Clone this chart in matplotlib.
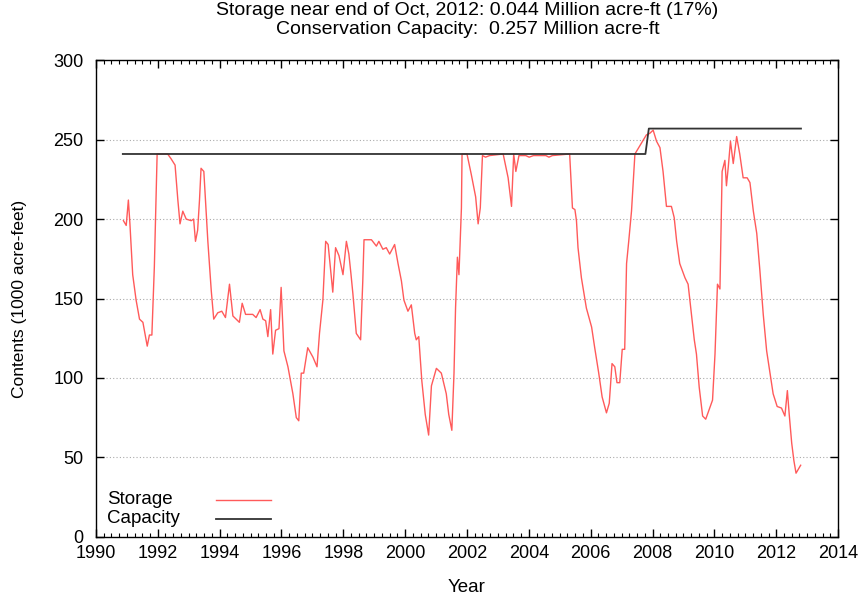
import matplotlib
matplotlib.use("Agg")
import matplotlib.pyplot as plt
from matplotlib.ticker import MultipleLocator

plt.rcParams['font.family'] = ['Liberation Sans', 'DejaVu Sans']

# Storage (1000 acre-ft)
storage_year = [
    1990.89, 1990.98, 1991.05, 1991.10, 1991.19, 1991.30, 1991.41, 1991.52,
    1991.66, 1991.73, 1991.81, 1991.89, 1991.98, 1992.32, 1992.43, 1992.56,
    1992.65, 1992.72, 1992.81, 1992.92, 1993.08, 1993.16, 1993.22, 1993.29,
    1993.35, 1993.40, 1993.49, 1993.62, 1993.73, 1993.81, 1993.94, 1994.07,
    1994.19, 1994.32, 1994.43, 1994.64, 1994.73, 1994.84, 1995.07, 1995.18,
    1995.31, 1995.40, 1995.49, 1995.56, 1995.65, 1995.72, 1995.81, 1995.92,
    1995.99, 1996.08, 1996.21, 1996.37, 1996.48, 1996.56, 1996.64, 1996.72,
    1996.85, 1997.02, 1997.15, 1997.23, 1997.34, 1997.43, 1997.51, 1997.66,
    1997.75, 1997.86, 1997.99, 1998.10, 1998.18, 1998.25, 1998.31, 1998.42,
    1998.56, 1998.63, 1998.67, 1998.91, 1999.07, 1999.15, 1999.28, 1999.39,
    1999.50, 1999.66, 1999.77, 1999.88, 1999.96, 2000.09, 2000.20, 2000.31,
    2000.36, 2000.44, 2000.54, 2000.65, 2000.76, 2000.85, 2001.01, 2001.17,
    2001.33, 2001.41, 2001.51, 2001.58, 2001.63, 2001.69, 2001.74, 2001.82,
    2001.84, 2002.00, 2002.14, 2002.28, 2002.36, 2002.43, 2002.50, 2002.60,
    2002.73, 2003.17, 2003.33, 2003.44, 2003.51, 2003.58, 2003.68, 2003.90,
    2004.01, 2004.15, 2004.55, 2004.65, 2004.76, 2005.32, 2005.41, 2005.49,
    2005.54, 2005.59, 2005.70, 2005.86, 2006.03, 2006.13, 2006.26, 2006.37,
    2006.51, 2006.60, 2006.69, 2006.78, 2006.85, 2006.94, 2007.02, 2007.10,
    2007.16, 2007.23, 2007.32, 2007.43, 2007.80, 2007.91, 2008.02, 2008.13,
    2008.24, 2008.34, 2008.45, 2008.61, 2008.70, 2008.78, 2008.88, 2009.05,
    2009.15, 2009.26, 2009.35, 2009.42, 2009.51, 2009.62, 2009.72, 2009.83,
    2009.94, 2010.02, 2010.10, 2010.18, 2010.25, 2010.34, 2010.39, 2010.45,
    2010.52, 2010.61, 2010.72, 2010.82, 2010.93, 2011.06, 2011.15, 2011.26,
    2011.37, 2011.47, 2011.58, 2011.69, 2011.80, 2011.90, 2012.03, 2012.17,
    2012.28, 2012.36, 2012.42, 2012.50, 2012.57, 2012.64, 2012.79,
]
storage_value = [
    199, 196, 212, 197, 165, 149, 137, 135,
    120, 127, 127, 170, 241, 241, 238, 234,
    212, 197, 205, 200, 199, 200, 186, 193,
    212, 232, 230, 186, 155, 137, 141, 142,
    138, 159, 139, 135, 147, 140, 140, 138,
    143, 137, 136, 126, 143, 115, 130, 131,
    157, 117, 107, 90, 75, 73, 103, 103,
    119, 113, 107, 128, 149, 186, 184, 154,
    182, 177, 165, 186, 178, 165, 153, 128,
    124, 161, 187, 187, 183, 186, 181, 182,
    178, 184, 172, 161, 149, 142, 146, 128,
    124, 126, 98, 77, 64, 95, 106, 103,
    90, 77, 67, 103, 144, 176, 165, 207,
    241, 241, 228, 214, 197, 207, 240, 239,
    240, 241, 226, 208, 241, 230, 240, 240,
    239, 240, 240, 239, 240, 241, 207, 206,
    199, 182, 163, 144, 132, 119, 103, 88,
    78, 84, 109, 107, 97, 97, 118, 118,
    172, 186, 205, 241, 253, 254, 256, 249,
    245, 230, 208, 208, 201, 186, 172, 163,
    159, 140, 124, 115, 94, 76, 74, 80,
    86, 115, 159, 156, 230, 237, 221, 233,
    249, 235, 252, 241, 226, 226, 223, 205,
    191, 168, 140, 117, 103, 90, 82, 81,
    76, 92, 77, 59, 48, 40, 45,
]

# Conservation capacity (1000 acre-ft)
capacity_year = [1990.87, 2007.77, 2007.88, 2012.80]
capacity_value = [241, 241, 257, 257]

x_ticks = list(range(1990, 2015, 2))
y_ticks = list(range(0, 301, 50))

storage_style = dict(color='#ff5a5a', lw=1.0)
capacity_style = dict(color='#333333', lw=1.3)

fig = plt.figure(figsize=(8.64, 5.97), dpi=100)
ax = fig.add_axes([0.111, 0.101, 0.859, 0.798])

ax.plot(storage_year, storage_value, **storage_style)
ax.plot(capacity_year, capacity_value, **capacity_style)

ax.set_xlim(1990, 2014)
ax.set_ylim(0, 300)
ax.set_xticks(x_ticks)
ax.set_yticks(y_ticks)
ax.xaxis.set_minor_locator(MultipleLocator(0.25))
ax.tick_params(which='both', direction='in', top=True, right=True,
               labelsize=13, color='black')
ax.tick_params(which='major', length=6, width=1)
ax.tick_params(which='minor', length=3, width=0.8)
ax.tick_params(axis='x', pad=6)
ax.tick_params(axis='y', pad=9)
ax.yaxis.grid(True, linestyle=(0, (1, 2)), color='#aaaaaa', lw=0.8)
for s in ax.spines.values():
    s.set_linewidth(1.0)
    s.set_color('black')

ax.set_xlabel('Year', fontsize=13.5, labelpad=12)
ax.set_ylabel('Contents (1000 acre-feet)', fontsize=12.5, labelpad=19)

fig.text(0.541, 0.983, 'Storage near end of Oct, 2012: 0.044 Million acre-ft (17%)',
         ha='center', va='center', fontsize=14)
fig.text(0.541, 0.951, 'Conservation Capacity:  0.257 Million acre-ft',
         ha='center', va='center', fontsize=14)

# gnuplot-style key: label on the left, sample line on the right
for label, style, ky in [('Storage', storage_style, 0.078),
                         ('Capacity', capacity_style, 0.038)]:
    ax.text(0.015, ky, label, transform=ax.transAxes, ha='left', va='center',
            fontsize=13.5)
    ax.plot([0.162, 0.236], [ky, ky], transform=ax.transAxes, **style)

fig.savefig('out.png', dpi=100)
